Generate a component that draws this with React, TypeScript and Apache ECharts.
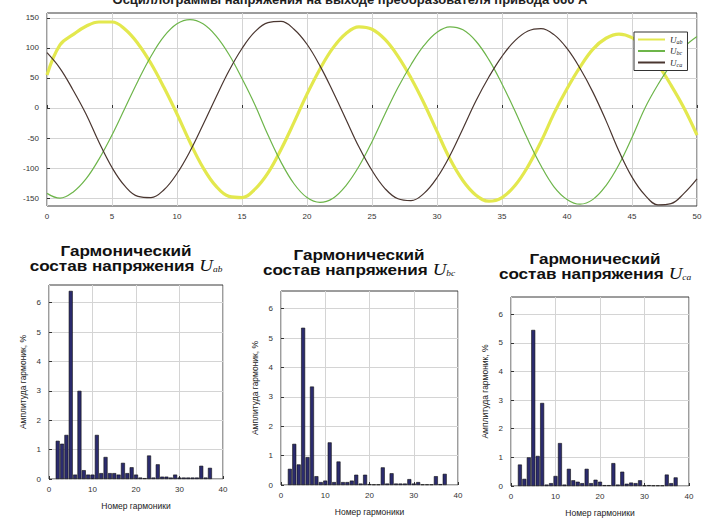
import React, { useEffect, useRef } from 'react';
import * as echarts from 'echarts';

// ---- Top chart: phase voltages vs time ----
const timeX = [0,1,2,3,4,5,6,7,8,9,10,11,12,13,14,15,16,17,18,19,20,21,22,23,24,25,26,27,28,29,30,31,32,33,34,35,36,37,38,39,40,41,42,43,44,45,46,47,48,49,50];
const uab = [55,105,122,136,143,143,131,107,74,34,-10,-57,-99,-130,-147,-149,-135,-108,-69,-24,23,65,100,124,135,131,114,86,50,8,-39,-85,-121,-145,-155,-149,-129,-97,-56,-9,32,68,98,116,123,117,100,72,38,0,-45];
const ubc = [-142,-150,-140,-118,-85,-45,0,45,86,119,140,147,140,120,89,49,5,-45,-90,-126,-149,-157,-150,-129,-97,-56,-10,34,72,104,126,135,130,111,80,40,-5,-53,-96,-131,-152,-160,-152,-129,-94,-49,0,39,72,101,119];
const uca = [92,66,30,-10,-57,-99,-130,-147,-149,-136,-109,-72,-28,18,62,99,127,142,144,131,106,70,27,-19,-65,-104,-134,-151,-154,-142,-116,-79,-34,12,52,86,112,128,132,122,99,66,26,-21,-72,-115,-145,-161,-159,-142,-118];
const voltTicks = [-150,-100,-50,0,50,100,150];
const lineNames = ['Uab','Ubc','Uca'];

// ---- Harmonic spectra ----
const harmonics = [2,3,4,5,6,7,8,9,10,11,12,13,14,15,16,17,18,19,20,21,22,23,24,25,26,27,28,29,30,31,32,33,34,35,36,37];
const spectrumAB = [1.3,1.2,1.5,6.4,0.15,3.0,0.3,0.15,0.15,1.5,0.2,0.75,0.2,0.2,0.15,0.55,0.2,0.4,0.15,0.05,0.03,0.8,0.05,0.5,0.08,0.08,0.05,0.15,0.05,0.05,0.05,0.05,0.05,0.45,0.05,0.38];
const spectrumBC = [0.55,1.4,0.7,5.35,0.95,3.35,0.3,0.1,0.15,1.45,0.1,0.8,0.1,0.1,0.15,0.35,0.05,0.35,0.03,0.02,0.02,0.6,0.05,0.4,0.05,0.05,0.05,0.2,0.05,0.1,0.02,0.02,0.02,0.3,0.03,0.38];
const spectrumCA = [0.75,0.25,1.0,5.45,1.05,2.9,0.05,0.1,0.35,1.5,0.05,0.6,0.2,0.15,0.1,0.6,0.1,0.22,0.15,0.03,0.03,0.8,0.05,0.5,0.08,0.12,0.1,0.2,0.02,0.03,0.02,0.02,0.02,0.4,0.1,0.3];
const ampTicks = [0,1,2,3,4,5,6];
const panelSubs = ['ab','bc','ca'];

const FONT = '"Liberation Sans", Arial, sans-serif';
const SERIF = '"Liberation Serif", "DejaVu Serif", serif';

export default function App() {
  const ref = useRef<HTMLDivElement>(null);
  useEffect(() => {
    if (!ref.current) return;
    const chart = echarts.init(ref.current, null, { renderer: 'svg' });

    const panelGrids = [
      { left: 49, top: 285, width: 174, height: 194 },
      { left: 281, top: 291, width: 177, height: 194 },
      { left: 511, top: 297, width: 178, height: 193 },
    ];
    const spectra = [spectrumAB, spectrumBC, spectrumCA];
    const titleCenters = [[126, 258], [359, 262.5], [595, 266.5]];

    const gridBase = { show: true, borderColor: '#3a3a3a', borderWidth: 1, backgroundColor: '#fff' };
    const splitStyle = { show: true, lineStyle: { color: '#d4d4d4', width: 1 } };

    const grids: any[] = [
      { ...gridBase, left: 47, top: 13, width: 650, height: 193 },
      ...panelGrids.map(g => ({ ...gridBase, ...g })),
    ];

    const xAxes: any[] = [
      {
        type: 'value', gridIndex: 0, min: 0, max: 50, interval: 5,
        axisLine: { show: false },
        axisTick: { show: true, inside: true, length: 3, lineStyle: { color: '#333' } },
        axisLabel: { fontSize: 8, color: '#333', margin: 6, fontFamily: FONT },
        splitLine: splitStyle,
      },
      ...panelGrids.map((_, i) => ({
        type: 'value', gridIndex: i + 1, min: 0, max: 40, interval: 10,
        name: 'Номер гармоники', nameLocation: 'middle', nameGap: 22,
        nameTextStyle: { fontSize: 8.5, color: '#222', fontFamily: FONT },
        axisLine: { show: false },
        axisTick: { show: true, inside: true, length: 3, lineStyle: { color: '#333' } },
        axisLabel: { fontSize: 8, color: '#333', margin: 6, fontFamily: FONT },
        splitLine: splitStyle,
      })),
    ];

    const yAxes: any[] = [
      {
        type: 'value', gridIndex: 0, min: -163, max: 158, splitNumber: 6,
        axisLine: { show: false },
        axisTick: { show: true, inside: true, length: 3, customValues: voltTicks, lineStyle: { color: '#333' } },
        axisLabel: { fontSize: 8, color: '#333', margin: 8, fontFamily: FONT, customValues: voltTicks },
        splitLine: splitStyle,
      },
      ...panelGrids.map((_, i) => ({
        type: 'value', gridIndex: i + 1, min: 0, max: 6.6, splitNumber: 6,
        name: 'Амплитуда гармоник, %', nameLocation: 'middle', nameGap: 22,
        nameTextStyle: { fontSize: 8.5, color: '#222', fontFamily: FONT },
        axisLine: { show: false },
        axisTick: { show: true, inside: true, length: 3, customValues: ampTicks, lineStyle: { color: '#333' } },
        axisLabel: { fontSize: 8, color: '#333', margin: 8, fontFamily: FONT, customValues: ampTicks },
        splitLine: splitStyle,
      })),
    ];

    const lineColors = ['#e3e84e', '#6db54a', '#4a3630'];
    const lineWidths = [3.2, 1.2, 1.2];
    const lineData = [uab, ubc, uca];

    const series: any[] = [
      ...lineData.map((vals, k) => ({
        type: 'line', name: lineNames[k], xAxisIndex: 0, yAxisIndex: 0,
        data: timeX.map((x, i) => [x, vals[i]]),
        smooth: 0.4, showSymbol: false, symbol: 'none', clip: true,
        color: lineColors[k],
        itemStyle: { color: lineColors[k] },
        lineStyle: { color: lineColors[k], width: lineWidths[k] },
        z: k === 0 ? 2 : 3,
      })),
      ...spectra.map((vals, k) => ({
        type: 'bar', xAxisIndex: k + 1, yAxisIndex: k + 1,
        data: harmonics.map((h, i) => [h, vals[i]]),
        barWidth: 4,
        itemStyle: { color: '#2b2b6e', borderColor: '#111', borderWidth: 0.6 },
      })),
    ];

    const richTitle = {
      u: { fontFamily: SERIF, fontStyle: 'italic', fontWeight: 'normal', fontSize: 16, lineHeight: 15, fill: '#111' },
      s: { fontFamily: SERIF, fontStyle: 'italic', fontWeight: 'normal', fontSize: 8, lineHeight: 15, fill: '#111', padding: [7, 0, 0, 0] },
    };

    const graphics: any[] = [
      {
        type: 'text', x: 350, y: -7,
        style: {
          text: 'Осциллограммы напряжения на выходе преобразователя привода 660 А',
          fontFamily: FONT, fontWeight: 'bold', fontSize: 13, fill: '#222',
          align: 'center', verticalAlign: 'top',
        },
      },
      ...titleCenters.map(([cx, cy], i) => ({
        type: 'text', x: cx, y: cy, scaleX: 1.18, scaleY: 1,
        style: {
          text: 'Гармонический\nсостав напряжения {u|U}{s|' + panelSubs[i] + '}',
          fontFamily: FONT, fontWeight: 'bold', fontSize: 14.5, lineHeight: 15, fill: '#111',
          align: 'center', verticalAlign: 'middle',
          rich: richTitle,
        },
      })),
    ];

    chart.setOption({
      animation: false,
      backgroundColor: '#fff',
      grid: grids,
      xAxis: xAxes,
      yAxis: yAxes,
      legend: {
        data: lineNames.map(n => ({ name: n, icon: 'rect' })),
        orient: 'vertical', left: 634, top: 32,
        itemWidth: 27, itemHeight: 2, itemGap: 2,
        padding: [3, 5, 3, 4],
        borderColor: '#333', borderWidth: 1, backgroundColor: '#fff',
        formatter: (name: string) => '{u|U}{s|' + name.slice(1) + '}',
        textStyle: {
          fontSize: 8, color: '#222',
          rich: {
            u: { fontFamily: SERIF, fontStyle: 'italic', fontSize: 9, color: '#222' },
            s: { fontFamily: SERIF, fontStyle: 'italic', fontSize: 6, color: '#222', padding: [4, 0, 0, 0] },
          },
        },
      },
      series,
      graphic: graphics,
    });
    return () => chart.dispose();
  }, []);

  return (
    <div
      ref={ref}
      style={{ position: 'absolute', left: 0, top: 0, width: 705, height: 518, background: '#fff' }}
    />
  );
}
